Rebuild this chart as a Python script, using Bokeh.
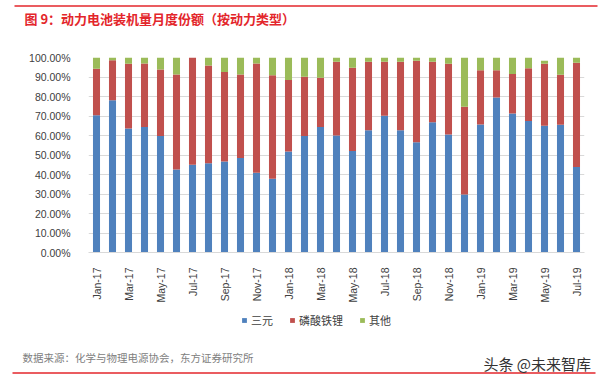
from bokeh.plotting import figure
from bokeh.layouts import column
from bokeh.models import (FactorRange, FixedTicker, PrintfTickFormatter, Legend, LegendItem,
                          Label, ColumnDataSource, CustomJSTickFormatter)
from bokeh.embed import file_html
from bokeh.resources import INLINE
import math

months = ["Jan-17", "Feb-17", "Mar-17", "Apr-17", "May-17", "Jun-17", "Jul-17", "Aug-17",
          "Sep-17", "Oct-17", "Nov-17", "Dec-17", "Jan-18", "Feb-18", "Mar-18", "Apr-18",
          "May-18", "Jun-18", "Jul-18", "Aug-18", "Sep-18", "Oct-18", "Nov-18", "Dec-18",
          "Jan-19", "Feb-19", "Mar-19", "Apr-19", "May-19", "Jun-19", "Jul-19"]
ternary = [70.4, 78.1, 63.6, 64.3, 59.7, 42.6, 45.0, 45.8, 46.7, 48.4, 40.9, 37.8, 51.8, 59.7,
           64.4, 60.0, 52.0, 62.7, 70.1, 62.7, 56.6, 66.8, 60.5, 29.7, 65.6, 79.5, 71.3, 67.4,
           65.0, 65.5, 43.8]
lfp = [23.8, 20.5, 33.2, 32.6, 34.1, 48.7, 55.0, 50.1, 45.9, 42.9, 56.0, 53.1, 36.7, 30.4,
       25.2, 37.8, 42.7, 35.1, 27.7, 35.1, 41.7, 31.0, 36.3, 45.0, 27.9, 14.0, 20.2, 27.1,
       31.8, 25.6, 53.5]
other = [5.8, 1.4, 3.2, 3.1, 6.2, 8.7, 0.0, 4.1, 7.4, 8.7, 3.1, 9.1, 11.5, 9.9, 10.4, 2.2,
         5.3, 2.2, 2.2, 2.2, 1.7, 2.2, 3.2, 25.3, 6.5, 6.5, 8.5, 5.5, 1.5, 8.9, 2.7]
series_names = ["三元", "磷酸铁锂", "其他"]
y_ticks = [0, 10, 20, 30, 40, 50, 60, 70, 80, 90, 100]

colors = ["#4F81BD", "#C0504D", "#9BBB59"]
RED = "#E3262B"
CJK = "Noto Sans CJK SC"
LAT = "Liberation Sans"
W = 606


def bare(height):
    f = figure(width=W, height=height, x_range=(0, W), y_range=(height, 0), x_axis_type=None,
               y_axis_type=None, output_backend="svg", toolbar_location=None, min_border=0)
    f.outline_line_color = None
    f.grid.visible = False
    if "frame_align" in f.properties():
        f.frame_align = False
    return f


# ---------- header ----------
hdr = bare(40)
hdr.segment(x0=[14], y0=[5.5], x1=[597], y1=[5.5], line_color=RED, line_width=1.5)
hdr.add_layout(Label(x=24, y=18, text="图 9：动力电池装机量月度份额（按动力类型）",
                     text_font=CJK, text_font_size="13px", text_font_style="bold",
                     text_color=RED, text_baseline="middle"))

# ---------- main chart ----------
source = ColumnDataSource(dict(month=months, s0=ternary, s1=lfp, s2=other))
p = figure(width=W, height=265, x_range=FactorRange(*months, range_padding=0),
           y_range=(0, 100), output_backend="svg", toolbar_location=None,
           min_border_left=88, min_border_right=22, min_border_top=17, min_border_bottom=53)
p.outline_line_color = None
if "frame_align" in p.properties():
    p.frame_align = False
p.vbar_stack(["s0", "s1", "s2"], x="month", width=0.44, color=colors,
             line_color=None, source=source)

p.yaxis.ticker = FixedTicker(ticks=y_ticks)
p.yaxis.formatter = PrintfTickFormatter(format="%.2f%%")
p.yaxis.axis_line_color = None
p.yaxis.major_tick_line_color = None
p.yaxis.minor_tick_line_color = None
p.yaxis.major_label_text_font = LAT
p.yaxis.major_label_text_font_size = "10.5px"
p.yaxis.major_label_text_color = "#404040"
p.yaxis.major_label_standoff = 12

p.xaxis.axis_line_color = "#D9D9D9"
p.xaxis.major_tick_line_color = None
p.xaxis.minor_tick_line_color = None
p.xaxis.major_label_orientation = math.pi / 2
p.xaxis.major_label_text_font = LAT
p.xaxis.major_label_text_font_size = "10.5px"
p.xaxis.major_label_text_color = "#404040"
p.xaxis.major_label_standoff = 9
p.xaxis.formatter = CustomJSTickFormatter(code="return (index % 2 == 0) ? tick : '';")
p.xgrid.grid_line_color = None
p.ygrid.grid_line_color = "#D9D9D9"
p.ygrid.ticker = FixedTicker(ticks=y_ticks)

# ---------- footer (legend, source, watermark) ----------
FH = 78
ftr = bare(FH)
nan = float("nan")
proxies = [ftr.vbar(x=[nan], top=[nan], width=1, color=c, line_color=None) for c in colors]
legend = Legend(items=[LegendItem(label=n, renderers=[r]) for n, r in zip(series_names, proxies)],
                orientation="horizontal", location=(241, FH - 23),
                glyph_width=6, glyph_height=6, label_text_font=CJK,
                label_text_font_size="11px", label_text_color="#404040",
                label_standoff=4, spacing=16, padding=0, margin=0,
                border_line_alpha=0, background_fill_alpha=0, label_height=12)
ftr.add_layout(legend, "center")
ftr.add_layout(Label(x=22, y=52, text="数据来源：化学与物理电源协会，东方证券研究所",
                     text_font=CJK, text_font_size="10.5px", text_color="#808080",
                     text_baseline="middle"))
ftr.segment(x0=[12], y0=[67.5], x1=[595], y1=[67.5], line_color=RED, line_width=1.5)
ftr.add_layout(Label(x=483, y=58, text="头条 @未来智库", text_font=CJK,
                     text_font_size="15px", text_color="#333333", text_baseline="middle"))

layout = column(hdr, p, ftr, spacing=0)
open("out.html", "w").write(file_html(layout, INLINE))
